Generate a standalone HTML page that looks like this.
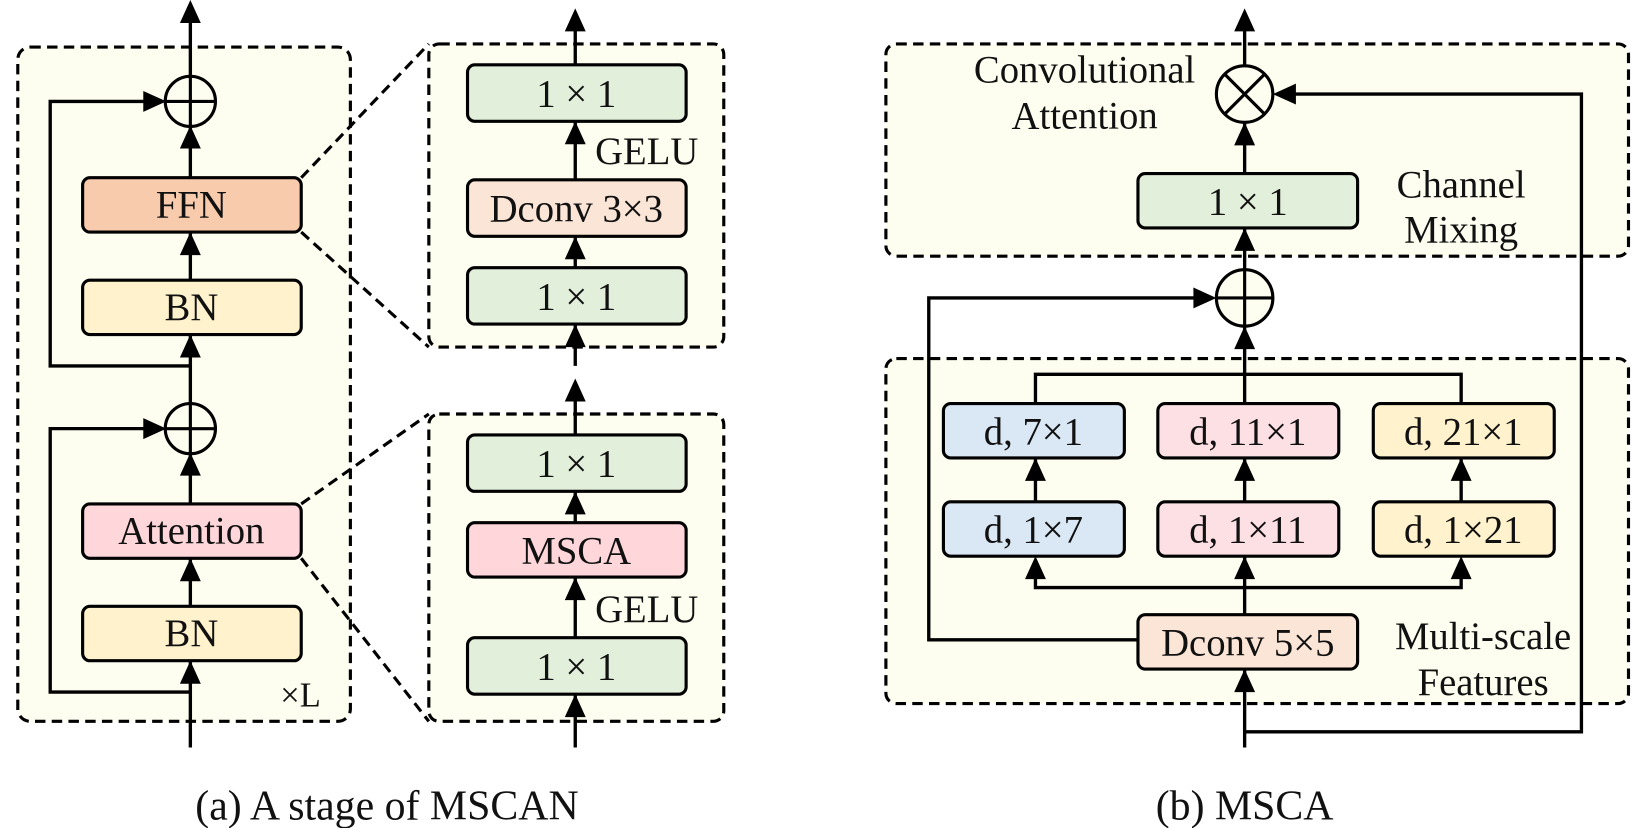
<!DOCTYPE html>
<html><head><style>
html,body{margin:0;padding:0;background:#fff;}
svg{display:block;}
text{font-family:"Liberation Serif",serif;fill:#111;}
</style></head><body>
<svg width="1640" height="828" viewBox="0 0 1568 792" preserveAspectRatio="none" xmlns="http://www.w3.org/2000/svg">
<g stroke="#000" stroke-width="3" fill="#fefef0" stroke-dasharray="10,6">
<rect x="17" y="45" width="318" height="645" rx="12"/>
<rect x="410" y="42" width="282" height="290" rx="10"/>
<rect x="410" y="396" width="282" height="294" rx="10"/>
<rect x="847" y="42" width="710" height="203" rx="10"/>
<rect x="847" y="343" width="710" height="330" rx="10"/>
<line x1="288" y1="170" x2="410" y2="42"/>
<line x1="288" y1="222" x2="410" y2="332"/>
<line x1="288" y1="482" x2="410" y2="396"/>
<line x1="288" y1="534" x2="410" y2="690"/>
</g>
<g stroke="#000" stroke-width="3.2" fill="none">
<line x1="182" y1="18" x2="182" y2="715"/>
<polyline points="182,350 48,350 48,97 150,97"/>
<polyline points="182,662 48,662 48,410 150,410"/>
<line x1="550" y1="20" x2="550" y2="350"/>
<line x1="550" y1="374" x2="550" y2="715"/>
<line x1="1190" y1="20" x2="1190" y2="715"/>
<polyline points="1088,612 888,612 888,285 1152,285"/>
<polyline points="1190,700 1512,700 1512,90 1228,90"/>
<polyline points="990,386 990,358 1397,358 1397,386"/>
<polyline points="990,540 990,562 1397,562 1397,540"/>
<line x1="990" y1="438" x2="990" y2="480"/>
<line x1="1397" y1="438" x2="1397" y2="480"/>
</g>
<g fill="#000">
<polygon points="182,0 172,22 192,22"/>
<polygon points="182,120 172,142 192,142"/>
<polygon points="182,222 172,244 192,244"/>
<polygon points="182,320 172,342 192,342"/>
<polygon points="182,433 172,455 192,455"/>
<polygon points="182,534 172,556 192,556"/>
<polygon points="182,632 172,654 192,654"/>
<polygon points="159,97 137,87 137,107"/>
<polygon points="159,410 137,400 137,420"/>
<polygon points="550,8 540,30 560,30"/>
<polygon points="550,116 540,138 560,138"/>
<polygon points="550,226 540,248 560,248"/>
<polygon points="550,310 540,332 560,332"/>
<polygon points="550,362 540,384 560,384"/>
<polygon points="550,470 540,492 560,492"/>
<polygon points="550,552 540,574 560,574"/>
<polygon points="550,664 540,686 560,686"/>
<polygon points="1190,8 1180,30 1200,30"/>
<polygon points="1190,117 1180,139 1200,139"/>
<polygon points="1190,218 1180,240 1200,240"/>
<polygon points="1190,312 1180,334 1200,334"/>
<polygon points="1163,285 1141,275 1141,295"/>
<polygon points="1217,90 1239,80 1239,100"/>
<polygon points="990,438 980,460 1000,460"/>
<polygon points="1190,438 1180,460 1200,460"/>
<polygon points="1397,438 1387,460 1407,460"/>
<polygon points="990,532 980,554 1000,554"/>
<polygon points="1190,532 1180,554 1200,554"/>
<polygon points="1397,532 1387,554 1407,554"/>
<polygon points="1190,640 1180,662 1200,662"/>
</g>
<g stroke="#000" stroke-width="3">
<circle cx="182" cy="97" r="24" fill="#fefef0"/>
<line x1="158" y1="97" x2="206" y2="97"/><line x1="182" y1="73" x2="182" y2="121"/>
<circle cx="182" cy="410" r="24" fill="#fefef0"/>
<line x1="158" y1="410" x2="206" y2="410"/><line x1="182" y1="386" x2="182" y2="434"/>
<circle cx="1190" cy="285" r="27" fill="#fefef0"/>
<line x1="1163" y1="285" x2="1217" y2="285"/><line x1="1190" y1="258" x2="1190" y2="312"/>
<circle cx="1190" cy="90" r="27" fill="#fefef0"/>
<line x1="1171" y1="71" x2="1209" y2="109"/><line x1="1209" y1="71" x2="1171" y2="109"/>
</g>
<g stroke="#000" stroke-width="3">
<rect x="79" y="170" width="209" height="52" rx="7" fill="#f8cbad"/>
<rect x="79" y="268" width="209" height="52" rx="7" fill="#fff2cc"/>
<rect x="79" y="482" width="209" height="52" rx="7" fill="#ffd7db"/>
<rect x="79" y="580" width="209" height="52" rx="7" fill="#fff2cc"/>
<rect x="447" y="62" width="209" height="54" rx="7" fill="#e2efda"/>
<rect x="447" y="172" width="209" height="54" rx="7" fill="#fbe5d6"/>
<rect x="447" y="256" width="209" height="54" rx="7" fill="#e2efda"/>
<rect x="447" y="416" width="209" height="54" rx="7" fill="#e2efda"/>
<rect x="447" y="500" width="209" height="52" rx="7" fill="#ffd7db"/>
<rect x="447" y="610" width="209" height="54" rx="7" fill="#e2efda"/>
<rect x="1088" y="166" width="210" height="52" rx="7" fill="#e2efda"/>
<rect x="902" y="386" width="173" height="52" rx="7" fill="#dae8f5"/>
<rect x="1107" y="386" width="173" height="52" rx="7" fill="#fde0e4"/>
<rect x="1313" y="386" width="173" height="52" rx="7" fill="#fff2cc"/>
<rect x="902" y="480" width="173" height="52" rx="7" fill="#dae8f5"/>
<rect x="1107" y="480" width="173" height="52" rx="7" fill="#fde0e4"/>
<rect x="1313" y="480" width="173" height="52" rx="7" fill="#fff2cc"/>
<rect x="1088" y="588" width="210" height="52" rx="7" fill="#fbe5d6"/>
</g>
<g font-size="37" text-anchor="middle">
<text x="183" y="208">FFN</text>
<text x="183" y="306">BN</text>
<text x="183" y="520">Attention</text>
<text x="183" y="618">BN</text>
<text x="551" y="102">1 × 1</text>
<text x="551" y="212">Dconv 3×3</text>
<text x="551" y="296">1 × 1</text>
<text x="551" y="456">1 × 1</text>
<text x="551" y="539">MSCA</text>
<text x="551" y="650">1 × 1</text>
<text x="1193" y="205">1 × 1</text>
<text x="988" y="425">d, 7×1</text>
<text x="1193" y="425">d, 11×1</text>
<text x="1399" y="425">d, 21×1</text>
<text x="988" y="519">d, 1×7</text>
<text x="1193" y="519">d, 1×11</text>
<text x="1399" y="519">d, 1×21</text>
<text x="1193" y="627">Dconv 5×5</text>
<text x="1037" y="79">Convolutional</text>
<text x="1037" y="123">Attention</text>
<text x="1397" y="189">Channel</text>
<text x="1397" y="232">Mixing</text>
<text x="1418" y="621">Multi-scale</text>
<text x="1418" y="665">Features</text>
<text x="370" y="784" font-size="40">(a) A stage of MSCAN</text>
<text x="1190" y="784" font-size="40">(b) MSCA</text>
</g>
<g font-size="37">
<text x="569" y="157">GELU</text>
<text x="569" y="595">GELU</text>
<text x="268" y="676" font-size="33">×L</text>
</g>
</svg>
</body></html>
